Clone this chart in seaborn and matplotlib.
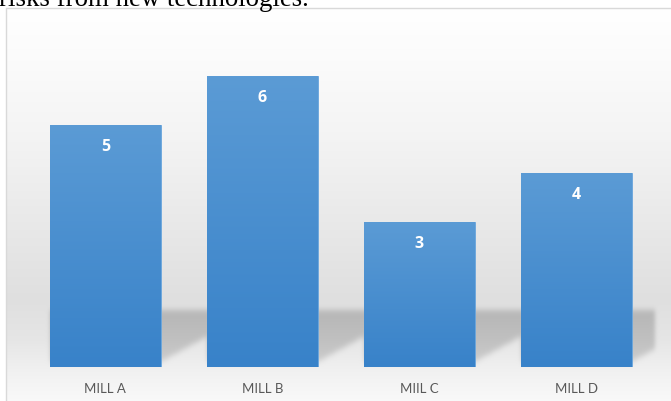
import numpy as np
import pandas as pd
import matplotlib
matplotlib.use("Agg")
import matplotlib.pyplot as plt
from matplotlib.lines import Line2D
import seaborn as sns

mills = ["MILL A", "MILL B", "MIIL C", "MILL D"]
counts = [5, 6, 3, 4]
caption = "risks from new technologies."

sns.set_style("white")
plt.rcParams["font.family"] = ["Lato", "DejaVu Sans"]

W, H, DPI = 671, 402, 100
fig = plt.figure(figsize=(W / DPI, H / DPI), dpi=DPI)
fig.patch.set_facecolor("white")

# chart frame (pixel geometry, origin top-left)
frame_l, frame_t = 6, 9
plot_l, plot_r = 27, 654.5
base_y, top_y = 368, 29

def fx(px):
    return px / W

def fy(py):
    return 1 - py / H

# background panel
ax_bg = fig.add_axes([fx(frame_l), 0, (W - frame_l) / W, (H - frame_t) / H], zorder=0)
ax_bg.set_axis_off()

# data axes
ax = fig.add_axes([fx(plot_l), fy(base_y), (plot_r - plot_l) / W, (base_y - top_y) / H], zorder=2)
ax.patch.set_alpha(0)
df = pd.DataFrame({"mill": mills, "count": counts})
sns.barplot(data=df, x="mill", y="count", color="#4a90d2", width=0.707,
            saturation=1, ax=ax, edgecolor="#6aa6dd", linewidth=0.6)
ax.set_xlim(-0.5, len(mills) - 0.5)
ax.set_ylim(0, 7)
for s in ax.spines.values():
    s.set_visible(False)
ax.set_yticks([])
ax.set_xlabel("")
ax.set_ylabel("")
ax.tick_params(axis="x", length=0, pad=11, labelsize=9.5, labelcolor="#595959")

# vertical gradient inside each bar
grad = np.linspace(0, 1, 256).reshape(-1, 1)
top_c = np.array([0x5b, 0x9b, 0xd5]) / 255
bot_c = np.array([0x38, 0x82, 0xc9]) / 255
grad_rgb = top_c[None, None, :] * (1 - grad[..., None]) + bot_c[None, None, :] * grad[..., None]
bars = list(ax.patches)
for p in bars:
    x0, w, h = p.get_x(), p.get_width(), p.get_height()
    im = ax.imshow(grad_rgb, extent=[x0, x0 + w, 0, h], origin="upper",
                   aspect="auto", zorder=p.get_zorder() + 0.1, interpolation="bilinear")
    im.set_clip_path(p)
    ax.annotate(f"{int(h)}", (x0 + w / 2, h), xytext=(0, -15), textcoords="offset points",
                ha="center", va="center", color="white", fontsize=11.5, fontweight="bold",
                family=["Open Sans", "DejaVu Sans"], zorder=5)
ax.set_xlim(-0.5, len(mills) - 0.5)
ax.set_ylim(0, 7)

# background: soft grey gradient plus cast shadows from the bars
fig.canvas.draw()
bh, bw = H - frame_t, W - frame_l
rows = np.arange(bh) + frame_t
stops_y = [9, 60, 150, 240, 300, 340, 372, 402]
stops_v = [1.00, 0.985, 0.95, 0.905, 0.875, 0.90, 0.945, 0.975]
col = np.interp(rows, stops_y, stops_v)
bg = np.repeat(col[:, None], bw, axis=1)

mask = np.zeros((bh, bw))
yy, xx = np.mgrid[0:bh, 0:bw]
yy = yy + frame_t
xx = xx + frame_l
for p in bars:
    bb = p.get_window_extent()
    xl, xr = bb.x0, bb.x1
    s_top, s_bot = base_y - 57, base_y - 6
    inside = (yy >= s_top) & (yy <= s_bot) & (xx >= xl) & (xx <= plot_r)
    diag = yy <= s_bot - 0.55 * np.clip(xx - xr, 0, None)
    strength = np.interp(yy, [s_top, s_top + 10, s_bot], [1.0, 0.95, 0.75])
    mask = np.maximum(mask, np.where(inside & diag, strength, 0))

def blur(a, sigma, axis):
    r = int(3 * sigma)
    k = np.exp(-0.5 * (np.arange(-r, r + 1) / sigma) ** 2)
    k /= k.sum()
    return np.apply_along_axis(lambda v: np.convolve(np.pad(v, r, mode="edge"), k, mode="valid"), axis, a)

mask = blur(blur(mask, 3.0, 0), 2.0, 1)
bg = bg * (1 - 0.19 * mask)
ax_bg.imshow(np.dstack([bg, bg, bg]), extent=[0, bw, bh, 0], aspect="auto",
             interpolation="bilinear", vmin=0, vmax=1)
ax_bg.set_xlim(0, bw)
ax_bg.set_ylim(bh, 0)

# frame edges
fig.add_artist(Line2D([fx(frame_l), fx(frame_l)], [0, fy(frame_t)], color="#d9d9d9", lw=1, zorder=3))
fig.add_artist(Line2D([fx(frame_l), 1], [fy(frame_t), fy(frame_t)], color="#d9d9d9", lw=1, zorder=3))

# caption line above the frame, sized to span about 310 px
cap = fig.text(fx(-1), fy(6.5), caption, family=["Liberation Serif", "DejaVu Serif"], fontsize=18,
               color="black", ha="left", va="baseline", zorder=4)
fig.canvas.draw()
cw = cap.get_window_extent().width
cap.set_fontsize(18 * 311 / cw)

fig.savefig("out.png", dpi=DPI)
